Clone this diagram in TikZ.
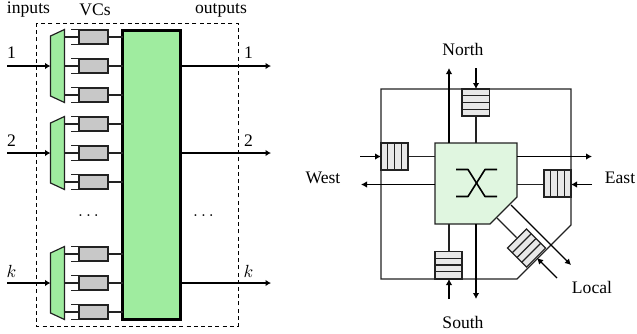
\documentclass[tikz,border=0pt]{standalone}
\usepackage{fontspec}
\setmainfont{Liberation Serif}
\usetikzlibrary{arrows.meta}
\definecolor{fabric}{HTML}{9FEC9F}
\definecolor{chip}{HTML}{E0F6E0}
\definecolor{vcgray}{HTML}{C8C8C8}
\definecolor{bufgray}{HTML}{E8E8E8}
\definecolor{linegray}{HTML}{222222}
\tikzset{
  x=1bp,y=-1bp,
  lbl/.style={inner sep=0pt,font=\fontsize{17.6bp}{20bp}\selectfont},
  mathlbl/.style={inner sep=0pt,scale=1.767},
  thin line/.style={draw=linegray,line width=1.2pt},
  heavy arrow/.style={line width=2.1pt,-{Latex[length=5.5bp,width=6.5bp]}},
  light arrow/.style={draw=black,line width=1.1pt,-{Latex[length=6bp,width=6.5bp]}},
  mux/.style={fill=fabric,draw=linegray,line width=1.2pt},
  vcbox/.style={fill=vcgray,draw=linegray,line width=1.2pt,minimum width=29bp,minimum height=14bp,inner sep=0pt,rectangle},
  bufsq/.style={fill=bufgray,draw=linegray,line width=1.2pt},
}
\begin{document}
\begin{tikzpicture}
\useasboundingbox (0,0) rectangle (637,333);
% left
\draw[line width=1pt,dash pattern=on 4bp off 3.2bp] (36,23) rectangle (238,326);
\node[rectangle,fill=fabric,draw=black,line width=2.6pt,minimum width=58bp,minimum height=289bp,inner sep=0pt] (fab) at (151.5,175) {};
\foreach \c/\n in {66/a,153/b,283/c}{
  \path[mux] (50.5,\c-30) -- (64.5,\c-36.5) -- (64.5,\c+36.5) -- (50.5,\c+30) -- cycle;
  \foreach \d in {-29,0,29}{
    \node[vcbox] (v\n\d) at (93.5,\c+\d) {};
    \coordinate (m\n\d) at (64.5,\c+\d);
    \coordinate (f\n\d) at (122.5,\c+\d);
    \draw[thin line] (m\n\d) -- (v\n\d.west);
    \draw[thin line] (v\n\d.east) -- (f\n\d);
    \draw[thin line] ([xshift=-7bp]v\n\d.north west) -- (v\n\d.north west);
    \draw[thin line] ([xshift=-7bp]v\n\d.south west) -- (v\n\d.south west);
  }
  \coordinate (in\n) at (7,\c);
  \coordinate (im\n) at (50.5,\c);
  \coordinate (of\n) at (180.5,\c);
  \coordinate (ot\n) at (271,\c);
  \draw[heavy arrow] (in\n) -- (im\n);
  \draw[heavy arrow] (of\n) -- (ot\n);
}
\node[lbl] (t1) at (28.5,10) {inputs};
\node[lbl] (t2) at (95,10) {VCs};
\node[lbl] (t3) at (221,10) {outputs};
\node[lbl] (i1) at (11.5,53) {1};
\node[lbl] (i2) at (11.5,141) {2};
\node[mathlbl] (i3) at (11.5,271) {$k$};
\node[lbl] (o1) at (248.5,53) {1};
\node[lbl] (o2) at (248.5,141) {2};
\node[mathlbl] (o3) at (248.5,271) {$k$};
\node[mathlbl] (d1) at (88.5,216) {$\ldots$};
\node[mathlbl] (d2) at (203.5,216) {$\ldots$};
% right
\path[draw=linegray,line width=1.2pt] (381,89) -- (571,89) -- (571,225) -- (517,279) -- (381,279) -- cycle;
\path[fill=chip,draw=linegray,line width=1.2pt] (435,143) -- (517,143) -- (517,197) -- (490,224) -- (435,224) -- cycle;
% switch glyph
\draw[black,line width=1.6pt,line join=round] (456,169.5) -- (468,169.5) -- (485,196.5) -- (497,196.5);
\draw[black,line width=1.6pt,line join=round] (456,196.5) -- (468,196.5) -- (485,169.5) -- (497,169.5);
% north
\draw[thin line] (476,116) -- (476,143);
\draw[light arrow] (449,143) -- (449,68);
\draw[light arrow] (476,68) -- (476,89);
\path[bufsq] (462,89) rectangle (489.5,116);
\foreach \y in {95.75,102.5,109.25} \draw[thin line] (462,\y) -- (489.5,\y);
% south
\draw[thin line] (449,224) -- (449,251);
\draw[light arrow] (476,224) -- (476,299);
\draw[light arrow] (449,299) -- (449,279);
\path[bufsq] (435,251.5) rectangle (462,279);
\foreach \y in {258.25,265,271.75} \draw[thin line] (435,\y) -- (462,\y);
% west
\draw[thin line] (408,156.5) -- (435,156.5);
\draw[light arrow] (435,184.5) -- (361,184.5);
\draw[light arrow] (360,156.5) -- (381,156.5);
\path[bufsq] (381,143) rectangle (408,170);
\foreach \x in {387.75,394.5,401.25} \draw[thin line] (\x,143) -- (\x,170);
% east
\draw[thin line] (517,184.5) -- (544,184.5);
\draw[light arrow] (517,156.5) -- (592,156.5);
\draw[light arrow] (592,184.5) -- (571,184.5);
\path[bufsq] (544,170) rectangle (571,197);
\foreach \x in {550.75,557.5,564.25} \draw[thin line] (\x,170) -- (\x,197);
% local
\draw[thin line] (497,218) -- (516.5,237.5);
\draw[light arrow] (511,205) -- (571,265);
\draw[light arrow] (557,278) -- (537,258);
\begin{scope}[shift={(526.5,248)},rotate=45]
\path[bufsq] (-13.5,-13.5) rectangle (13.5,13.5);
\foreach \y in {-6.75,0,6.75} \draw[thin line] (-13.5,\y) -- (13.5,\y);
\end{scope}
\node[lbl] (north) at (463,49) {North};
\node[lbl] (south) at (463,322) {South};
\node[lbl] (west) at (323,178) {West};
\node[lbl] (east) at (620,178) {East};
\node[lbl] (local) at (592,287) {Local};
\end{tikzpicture}
\end{document}
